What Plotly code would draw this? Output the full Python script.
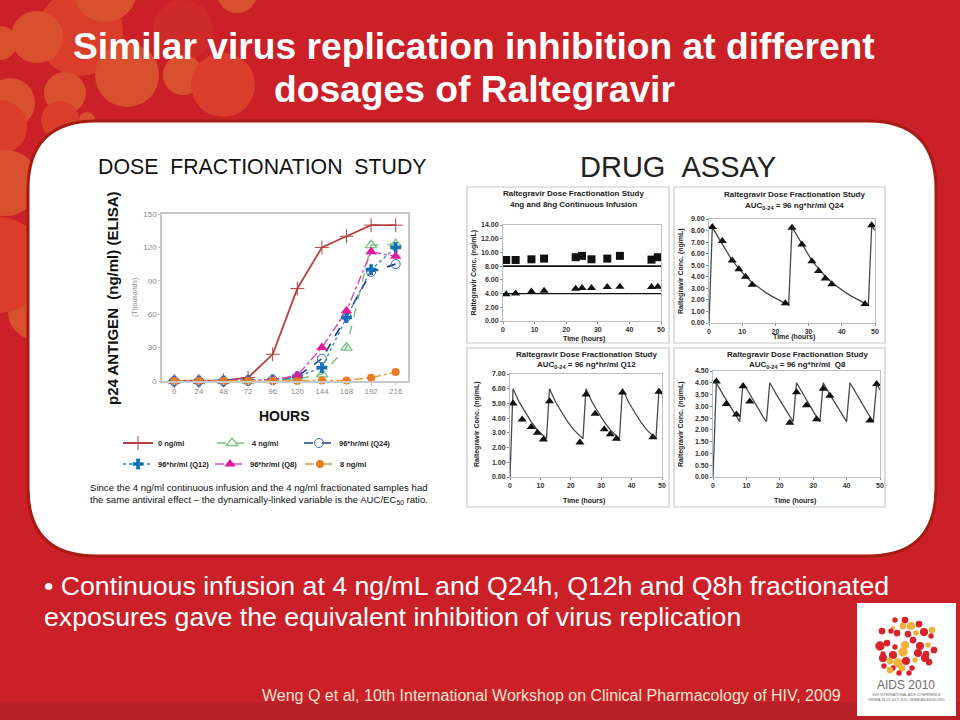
import plotly.graph_objects as go

# ---------- data ----------
hours = [0, 24, 48, 72, 96, 120, 144, 168, 192, 216]
p24_0ng = [0, 0, 0.5, 3, 24, 83, 120, 130, 140, 140]
p24_4ng = [0, 0, 0, 0, 0.5, 2, 6, 30, 122, 123]
p24_q24 = [0, 0, 0, 0.5, 1, 4, 20, 58, 98, 105]
p24_q12 = [0, 0, 0, 0.5, 1, 4, 12, 57, 100, 120]
p24_q8 = [0, 0, 0, 0.5, 1, 5, 30, 63, 116, 112]
p24_8ng = [0, 0, 0, 0, 0, 0, 0.5, 0.5, 3, 8]

cont_t = [1, 4, 9, 13, 23, 25, 28, 33, 37, 47, 49]
cont_8 = [8.9, 8.9, 9.0, 9.1, 9.3, 9.5, 9.0, 9.1, 9.5, 8.95, 9.3]
cont_4 = [3.9, 4.0, 4.3, 4.4, 4.7, 4.8, 4.8, 4.95, 5.0, 4.95, 5.0]
cont_line_t = [0, 50]
cont_line_8 = [8, 8]
cont_line_4 = [4, 4]

q24_t = [1, 4, 7, 9, 11, 13, 23, 25, 28, 31, 33, 35, 37, 47, 49]
q24_v = [8.3, 7.1, 5.4, 4.65, 4.0, 3.3, 1.7, 8.25, 6.8, 5.35, 4.5, 3.85, 3.35, 1.65, 8.45]
q24_line_t = [0, 1, 3, 5, 7, 9, 11, 13, 15, 17, 19, 21, 23, 24,
              25, 27, 29, 31, 33, 35, 37, 39, 41, 43, 45, 47, 48, 49, 50]
q24_line_v = [0, 8.3, 7.3, 6.3, 5.4, 4.7, 4.05, 3.5, 3.05, 2.65, 2.3, 2.0, 1.7, 1.55,
              8.3, 7.3, 6.3, 5.4, 4.7, 4.05, 3.5, 3.05, 2.65, 2.3, 2.0, 1.7, 1.55, 8.4, 8.0]

q12_t = [1, 4, 7, 9, 11, 13, 23, 25, 28, 31, 33, 35, 37, 47, 49]
q12_v = [5.0, 3.9, 3.4, 3.0, 2.55, 5.15, 2.35, 5.6, 4.3, 3.25, 2.9, 2.6, 5.75, 2.7, 5.8]
q12_line_t = [0, 1, 3, 5, 7, 9, 11, 12, 13, 15, 17, 19, 21, 23, 24,
              25, 27, 29, 31, 33, 35, 36, 37, 39, 41, 43, 45, 47, 48, 49, 50]
q12_line_v = [0, 6.0, 5.1, 4.4, 3.75, 3.2, 2.8, 2.6, 6.0, 5.1, 4.4, 3.75, 3.2, 2.8, 2.6,
              6.0, 5.1, 4.4, 3.75, 3.2, 2.8, 2.6, 6.0, 5.1, 4.4, 3.75, 3.2, 2.8, 2.6, 5.9, 5.6]

q8_t = [1, 4, 7, 9, 11, 23, 25, 28, 31, 33, 35, 47, 49]
q8_v = [4.05, 3.1, 2.65, 3.85, 3.2, 2.3, 3.6, 3.05, 2.45, 3.75, 3.45, 2.4, 3.95]
q8_line_t = [0, 1, 3, 5, 7, 8, 9, 11, 13, 15, 16, 17, 19, 21, 23, 24, 25, 27, 29, 31, 32,
             33, 35, 37, 39, 40, 41, 43, 45, 47, 48, 49, 50]
q8_line_v = [0, 4.0, 3.5, 3.05, 2.55, 2.35, 4.0, 3.5, 3.05, 2.55, 2.35, 4.0, 3.5, 3.05, 2.55, 2.35,
             4.0, 3.5, 3.05, 2.55, 2.35, 4.0, 3.5, 3.05, 2.55, 2.35, 4.0, 3.5, 3.05, 2.55, 2.35, 3.95, 3.7]

SANS = "Liberation Sans, Arial, sans-serif"
W, H = 960, 720


def fx(x):
    return x / W


def fy(y):
    return 1 - y / H


fig = go.Figure()
shapes = []
annos = []


def text(x, y, s, size, color="#111111", bold=False, xanchor="center", angle=0, family=SANS):
    annos.append(dict(
        xref="paper", yref="paper", x=fx(x), y=fy(y), text=f"<b>{s}</b>" if bold else s,
        showarrow=False, xanchor=xanchor, yanchor="middle", textangle=angle,
        font=dict(family=family, size=size, color=color),
    ))


def rect(x0, y0, x1, y1, fill, line=None, lw=1):
    shapes.append(dict(type="rect", xref="paper", yref="paper", layer="below",
                       x0=fx(x0), x1=fx(x1), y0=fy(y0), y1=fy(y1), fillcolor=fill,
                       line=dict(color=line or fill, width=lw if line else 0)))


def circle(cx, cy, r, fill):
    shapes.append(dict(type="circle", xref="paper", yref="paper", layer="below",
                       x0=fx(cx - r), x1=fx(cx + r), y0=fy(cy + r), y1=fy(cy - r),
                       fillcolor=fill, line=dict(width=0)))


# ---------- slide background ----------
RED = "#CB2027"
rect(0, 702, 960, 720, "#B72026")
LIGHT, MID, DARK = "#D9502F", "#DA3D2A", "#CF2A2A"
for cx, cy, r, col in [
    (183, 30, 30, DARK), (80, 33, 43, MID), (105, -10, 32, LIGHT), (37, 37, 26, LIGHT),
    (0, 43, 17, LIGHT), (127, 75, 32, LIGHT), (65, 93, 21, LIGHT), (183, 75, 20, LIGHT),
    (223, 85, 32, MID), (237, -7, 20, LIGHT), (10, 103, 25, LIGHT), (0, 127, 27, MID),
    (60, 120, 19, MID), (87, 120, 8, LIGHT), (6, 183, 33, LIGHT), (36, 312, 28, LIGHT),
    (-2, 265, 48, MID),
]:
    circle(cx, cy, r, col)

# rounded white panel
X0, Y0, X1, Y1, R = 28, 121, 936, 556, 68
rounded = (f"M {fx(X0 + R)} {fy(Y0)} L {fx(X1 - R)} {fy(Y0)} "
           f"Q {fx(X1)} {fy(Y0)} {fx(X1)} {fy(Y0 + R)} L {fx(X1)} {fy(Y1 - R)} "
           f"Q {fx(X1)} {fy(Y1)} {fx(X1 - R)} {fy(Y1)} L {fx(X0 + R)} {fy(Y1)} "
           f"Q {fx(X0)} {fy(Y1)} {fx(X0)} {fy(Y1 - R)} L {fx(X0)} {fy(Y0 + R)} "
           f"Q {fx(X0)} {fy(Y0)} {fx(X0 + R)} {fy(Y0)} Z")
shapes.append(dict(type="path", path=rounded, xref="paper", yref="paper", layer="below",
                   fillcolor="#FFFFFF", line=dict(color="#A81B12", width=3)))

# drug assay panel frames
GREY = "#C8C8C8"
for box in [(467, 187, 669, 343), (674, 187, 885, 343), (467, 348, 669, 507), (674, 348, 885, 507)]:
    rect(*box, "#FFFFFF", GREY, 1.2)

# logo
rect(857, 603, 956, 716, "#FFFFFF")
LR, LO = "#D8232A", "#F4B23A"
for cx, cy, r, col in [
    (895, 620, 2, LR), (905, 620, 2.5, LR), (919, 624, 2.5, LR), (911, 626, 3, LO), (903, 626, 2.5, LO),
    (893, 628, 1.5, LO), (882, 631, 2.5, LR), (891, 631, 2, LR), (924, 632, 3, LR), (932, 630, 2.5, LO),
    (897, 633, 2.5, LR), (908, 634, 2.5, LR), (916, 633, 2, LO), (931, 636, 2, LR),
    (887, 643, 2.5, LR), (880, 646, 3.5, LR), (895, 647, 2, LR), (905, 645, 3, LO), (913, 640, 2.5, LR),
    (920, 646, 3, LR), (928, 645, 2, LO), (934, 650, 2.5, LR), (883, 654, 2, LR), (893, 655, 3, LR),
    (903, 652, 3.5, LO), (918, 653, 3, LR), (926, 654, 2.5, LR), (883, 658, 3, LR), (890, 661, 2.5, LO),
    (898, 663, 3.5, LO), (906, 661, 3, LR), (915, 660, 2, LO), (925, 658, 3, LR), (929, 662, 2.5, LR),
    (884, 666, 2, LR), (893, 668, 2, LR), (902, 668, 2.5, LO), (912, 668, 2, LR), (890, 670, 2.5, LO),
    (899, 673, 2, LR), (909, 673, 2, LR),
]:
    circle(cx, cy, r * 1.35, col)
text(906, 685, "AIDS 2010", 12, "#6E6E6E")
text(906, 695, "XVIII INTERNATIONAL AIDS CONFERENCE", 3.4, "#666666")
text(906, 699.5, "VIENNA 18-23 JULY 2010 | WWW.AIDS2010.ORG", 3.4, "#666666")

# ---------- slide text ----------
text(474, 46, "Similar virus replication inhibition at different", 37.2, "#FFFFFF", bold=True)
text(474, 89, "dosages of Raltegravir", 37.2, "#FFFFFF", bold=True)
text(42, 586, "• Continuous infusion at 4 ng/mL and Q24h, Q12h and Q8h fractionated", 26.7, "#FFFFFF", xanchor="left")
text(42, 617, "exposures gave the equivalent inhibition of virus replication", 26.7, "#FFFFFF", xanchor="left")
text(551, 695, "Weng Q et al, 10th International Workshop on Clinical Pharmacology of HIV, 2009",
     16, "#F5E4D0")

# ---------- main chart ----------
main_series = [
    ("0 ng/ml", p24_0ng, "#B5403D", "solid", "cross-thin", 10, "#B5403D", 1, 1.8, "legend", 124, 443),
    ("4 ng/ml", p24_4ng, "#7CC47F", "dash", "triangle-up-open", 10, "#7CC47F", 1.3, 1.5, "legend2", 218, 443),
    ("96*hr/ml (Q24)", p24_q24, "#1F3E8C", "dash", "circle-open", 9, "#3A66B8", 1, 1.7, "legend3", 305, 443),
    ("96*hr/ml (Q12)", p24_q12, "#2E7FB8", "dot", "cross", 9, "#1070B4", 0, 1.3, "legend4", 124, 464),
    ("96*hr/ml (Q8)", p24_q8, "#D54FBF", "dashdot", "triangle-up", 10, "#E5189A", 0, 1.5, "legend5", 216, 464),
    ("8 ng/ml", p24_8ng, "#E89A3C", "dashdot", "circle", 8, "#EA7B1E", 0, 1.5, "legend6", 306, 464),
]
legends = {}
for name, vals, col, dash, sym, ms, mc, mlw, lw, leg, lx, ly in main_series:
    fig.add_trace(go.Scatter(
        x=hours, y=vals, mode="lines+markers", name=name, legend=leg, xaxis="x", yaxis="y", cliponaxis=False,
        line=dict(color=col, dash=dash, width=lw),
        marker=dict(symbol=sym, size=ms, color=mc, line=dict(color=mc, width=mlw)),
    ))
    legends[leg] = dict(
        x=fx(lx - 6), y=fy(ly), xanchor="left", yanchor="middle",
        bgcolor="rgba(0,0,0,0)", font=dict(family=SANS, size=7.5, color="#222222", weight="bold"), itemwidth=30,
    )

AXFONT = dict(family=SANS, size=8, color="#8A8A8A")
layout_axes = dict(
    xaxis=dict(domain=[fx(162), fx(408)], range=[-12, 228], tickvals=hours, showgrid=False, zeroline=False,
               automargin=False, showline=True, mirror=True, linecolor="#C8C8C8", linewidth=1.5, ticks="outside",
               ticklen=2, tickcolor="#C8C8C8", tickfont=AXFONT, anchor="y"),
    yaxis=dict(domain=[fy(381), fy(214)], range=[0, 150], tickvals=[0, 30, 60, 90, 120, 150], showgrid=False,
               automargin=False, zeroline=False, showline=True, mirror=True, linecolor="#C8C8C8", linewidth=1.5,
               ticks="outside", ticklen=2, tickcolor="#C8C8C8", tickfont=AXFONT, anchor="x"),
)
text(262, 167, "DOSE\u00a0\u00a0FRACTIONATION\u00a0\u00a0STUDY", 21.3, "#111111")
text(112, 298, "p24 ANTIGEN\u00a0\u00a0(ng/ml)\u00a0(ELISA)", 15, "#111111", bold=True, angle=-90)
text(135, 298, "(Thousands)", 7, "#8A8A8A", angle=-90)
text(284, 416, "HOURS", 14, "#111111", bold=True)
text(88, 487, "Since the 4 ng/ml continuous infusion and the 4 ng/ml fractionated samples had", 9.6, "#111111",
     xanchor="left")
text(88, 500, "the same antiviral effect – the dynamically-linked variable is the AUC/EC<sub>50</sub> ratio.",
     9.6, "#111111", xanchor="left")
text(678, 167, "DRUG\u00a0\u00a0ASSAY", 29, "#222222")

# ---------- four drug assay panels ----------
BLACK = "#111111"
TICK = dict(family=SANS, size=7, color="#333333", weight="bold")


def panel_axes(n, left, right, top, bottom, ymax, ydt):
    ticks = [round(i * ydt, 2) for i in range(int(round(ymax / ydt)) + 1)]
    layout_axes[f"xaxis{n}"] = dict(domain=[fx(left), fx(right)], range=[0, 50], tickvals=[0, 10, 20, 30, 40, 50],
                                    automargin=False, showgrid=False, zeroline=False, showline=True, mirror=True,
                                    linecolor="#BDBDBD", tickfont=TICK, ticks="outside", ticklen=2,
                                    tickcolor="#888888", anchor=f"y{n}")
    layout_axes[f"yaxis{n}"] = dict(domain=[fy(bottom), fy(top)], range=[0, ymax], tickvals=ticks, tickformat=".2f",
                                    automargin=False, showgrid=False, zeroline=False, showline=True, mirror=True,
                                    linecolor="#BDBDBD", tickfont=TICK, ticks="outside", ticklen=2,
                                    tickcolor="#888888", anchor=f"x{n}")


panel_axes(2, 503, 661, 225, 321, 14, 2)
panel_axes(3, 709, 875, 219, 323, 9, 1)
panel_axes(4, 510, 662, 374, 477, 7, 1)
panel_axes(5, 713, 880, 371, 477, 4.5, 0.5)


def line(n, x, y, col, w):
    fig.add_trace(go.Scatter(x=x, y=y, mode="lines", xaxis=f"x{n}", yaxis=f"y{n}", showlegend=False,
                             line=dict(color=col, width=w)))


def pts(n, x, y, sym, size=8):
    fig.add_trace(go.Scatter(x=x, y=y, mode="markers", xaxis=f"x{n}", yaxis=f"y{n}", showlegend=False, cliponaxis=False,
                             marker=dict(symbol=sym, size=size, color=BLACK, line=dict(width=0))))


line(2, cont_line_t, cont_line_8, BLACK, 1.6)
line(2, cont_line_t, cont_line_4, BLACK, 1.2)
pts(2, cont_t, cont_8, "square")
pts(2, cont_t, cont_4, "triangle-up")
line(3, q24_line_t, q24_line_v, "#4A4A4A", 1.3)
pts(3, q24_t, q24_v, "triangle-up")
line(4, q12_line_t, q12_line_v, "#4A4A4A", 1.3)
pts(4, q12_t, q12_v, "triangle-up")
line(5, q8_line_t, q8_line_v, "#4A4A4A", 1.3)
pts(5, q8_t, q8_v, "triangle-up")

PT = "#222222"
text(573, 193.5, "Raltegravir Dose Fractionation Study", 8, PT, bold=True)
text(573, 204.5, "4ng and 8ng Continuous Infusion", 8, PT, bold=True)
text(473.5, 273, "Raltegravir Conc. (ng/mL)", 7, PT, bold=True, angle=-90)
text(584, 339, "Time (hours)", 7, PT, bold=True)

text(794, 195, "Raltegravir Dose Fractionation Study", 8, PT, bold=True)
text(794, 206, "AUC<sub>0-24</sub> = 96 ng*hr/ml Q24", 8, PT, bold=True)
text(681, 271, "Raltegravir Conc. (ng/mL)", 7, PT, bold=True, angle=-90)
text(794, 337, "Time (hours)", 7, PT, bold=True)

text(586, 354.5, "Raltegravir Dose Fractionation Study", 8, PT, bold=True)
text(586, 365, "AUC<sub>0-24</sub> = 96 ng*hr/ml Q12", 8, PT, bold=True)
text(477, 424, "Raltegravir Conc. (ng/mL)", 7, PT, bold=True, angle=-90)
text(584, 501, "Time (hours)", 7, PT, bold=True)

text(797, 354.5, "Raltegravir Dose Fractionation Study", 8, PT, bold=True)
text(797, 365, "AUC<sub>0-24</sub> = 96 ng*hr/ml\u00a0\u00a0Q8", 8, PT, bold=True)
text(681, 424, "Raltegravir Conc. (ng/mL)", 7, PT, bold=True, angle=-90)
text(795, 501, "Time (hours)", 7, PT, bold=True)

fig.update_layout(
    width=W, height=H, margin=dict(l=0, r=0, t=0, b=0), paper_bgcolor=RED, plot_bgcolor="rgba(0,0,0,0)",
    shapes=shapes, annotations=annos, **layout_axes, **legends,
)
fig.write_html("out.html", config={"displayModeBar": False},
               post_script="document.body.style.margin='0';document.body.style.overflow='hidden';")
